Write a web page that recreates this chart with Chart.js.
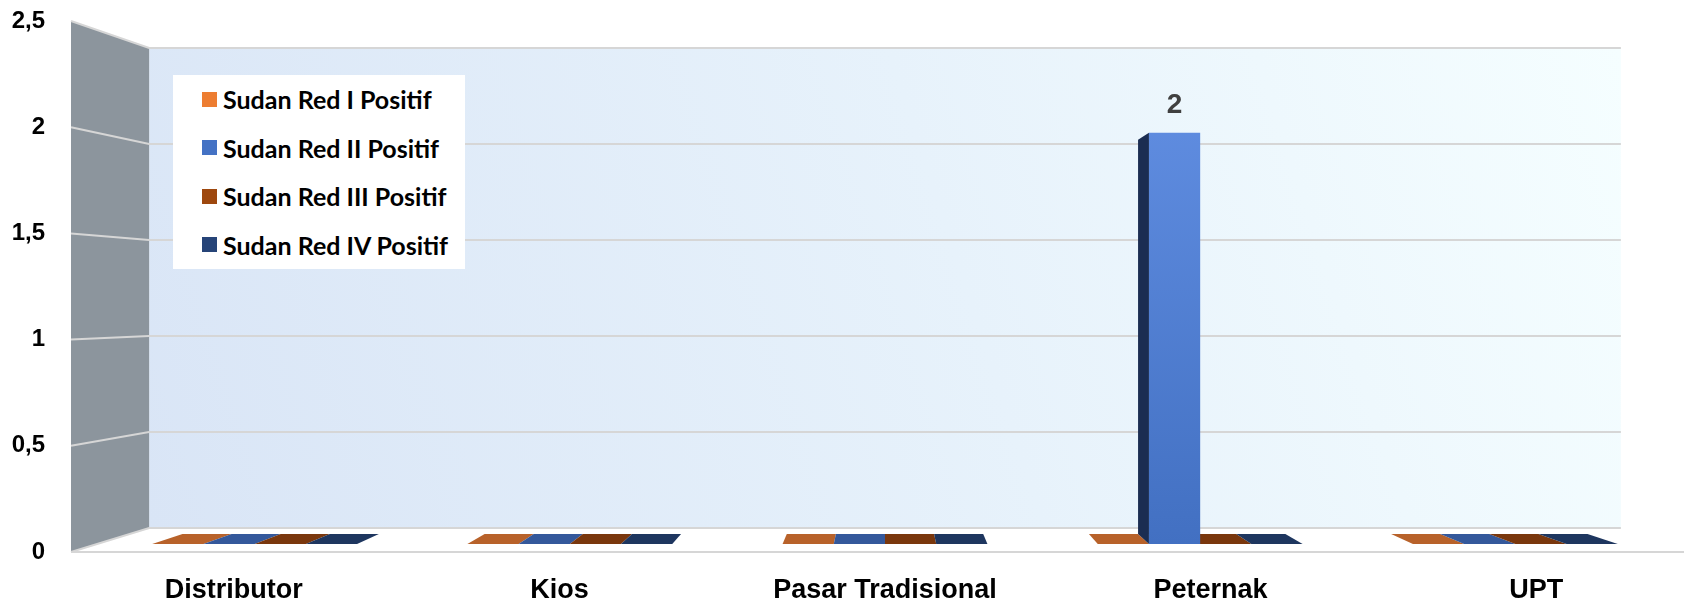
<!DOCTYPE html>
<html><head><meta charset="utf-8">
<script src="https://cdn.jsdelivr.net/npm/chart.js@4.4.1/dist/chart.umd.min.js"></script>
<style>
html,body{margin:0;padding:0;background:#fff;overflow:hidden;}
#wrap{position:relative;width:1700px;height:606px;}
#legend{position:absolute;left:173px;top:75px;width:292px;height:194px;background:#fff;font-family:Lato,'Noto Sans',sans-serif;font-weight:700;font-size:25px;color:#000;}
.item{position:absolute;left:29px;height:30px;display:flex;align-items:center;white-space:nowrap;}
.sw{width:15px;height:15px;margin-right:6px;flex:none;}
</style></head><body>
<div id="wrap"><canvas id="c"></canvas><div id="legend"></div></div>
<script>
const categories = ['Distributor', 'Kios', 'Pasar Tradisional', 'Peternak', 'UPT'];
const seriesNames = ['Sudan Red I Positif', 'Sudan Red II Positif', 'Sudan Red III Positif', 'Sudan Red IV Positif'];
const sudanRedI = [0, 0, 0, 0, 0];
const sudanRedII = [0, 0, 0, 2, 0];
const sudanRedIII = [0, 0, 0, 0, 0];
const sudanRedIV = [0, 0, 0, 0, 0];
const yTicks = [0, 0.5, 1, 1.5, 2, 2.5];

const seriesColors = ['#ED7D31', '#4472C4', '#9E480E', '#264478'];
const topColors = ['#b8622a', '#34589b', '#7a370d', '#1e365f'];
const sideColors = ['#8a4418', '#1b2d52', '#5a280a', '#14244a'];
const NARROW = "'Liberation Sans','Arimo',Arial,sans-serif";

const S_BACK = 0.904, S1 = 0.968, S2 = 0.928, VY_FRAC = 0.53;
function vp(ca){ return [(ca.left + ca.right) / 2, ca.top + VY_FRAC * (ca.bottom - ca.top)]; }
function P(ca, x, y, s){ const [vx, vy] = vp(ca); return [vx + (x - vx) * s, vy + (y - vy) * s]; }
function poly(ctx, pts, fill){ ctx.fillStyle = fill; ctx.beginPath(); ctx.moveTo(pts[0][0], pts[0][1]); for (let i = 1; i < pts.length; i++) ctx.lineTo(pts[i][0], pts[i][1]); ctx.closePath(); ctx.fill(); }

const room = {
  id: 'room',
  beforeDraw(chart){
    const {ctx, chartArea: ca} = chart; const y = chart.scales.y;
    const tl = P(ca, ca.left, ca.top, S_BACK), br = P(ca, ca.right, ca.bottom, S_BACK);
    ctx.save();
    const g = ctx.createLinearGradient(tl[0], br[1], br[0], tl[1]);
    g.addColorStop(0, '#d9e5f6'); g.addColorStop(0.55, '#e7f2fb'); g.addColorStop(1, '#f5feff');
    ctx.fillStyle = g; ctx.fillRect(tl[0], tl[1], br[0] - tl[0], br[1] - tl[1]);
    poly(ctx, [[ca.left, ca.top], tl, [tl[0], br[1]], [ca.left, ca.bottom]], '#8c959d');
    poly(ctx, [[ca.left, ca.bottom], [tl[0], br[1]], br, [ca.right, ca.bottom]], '#ffffff');
    ctx.strokeStyle = '#d6d6d6'; ctx.lineWidth = 2;
    y.ticks.forEach(t => {
      const py = y.getPixelForValue(t.value);
      const a = P(ca, ca.left, py, S_BACK), b = P(ca, ca.right, py, S_BACK);
      ctx.beginPath(); ctx.moveTo(ca.left, py); ctx.lineTo(a[0], a[1]); ctx.lineTo(b[0], b[1]); ctx.stroke();
    });
    ctx.beginPath(); ctx.moveTo(ca.left, ca.bottom); ctx.lineTo(ca.right, ca.bottom); ctx.stroke();
    ctx.restore();
  },
  beforeDatasetsDraw(chart){
    const {ctx, chartArea: ca} = chart; const [vx, vy] = vp(ca);
    ctx.save();
    const flats = [], sides = [];
    chart.data.datasets.forEach((ds, di) => {
      chart.getDatasetMeta(di).data.forEach(el => {
        const xl = el.x - el.width / 2, xr = el.x + el.width / 2;
        const yt = Math.min(el.y, el.base), yb = Math.max(el.y, el.base);
        if (yb - yt < 0.5) {
          flats.push([[P(ca, xl, yb, S1), P(ca, xr, yb, S1), P(ca, xr, yb, S2), P(ca, xl, yb, S2)], topColors[di]]);
        } else {
          const sx = xl > vx ? xl : xr;
          sides.push([[P(ca, sx, yt, S1), P(ca, sx, yb, S1), P(ca, sx, yb, S2), P(ca, sx, yt, S2)], sideColors[di]]);
          if (yt > vy) sides.push([[P(ca, xl, yt, S1), P(ca, xr, yt, S1), P(ca, xr, yt, S2), P(ca, xl, yt, S2)], topColors[di]]);
        }
      });
    });
    flats.forEach(f => poly(ctx, f[0], f[1]));
    sides.forEach(f => poly(ctx, f[0], f[1]));
    ctx.restore();
    ctx.save();
    ctx.translate(vx, vy); ctx.scale(S1, S1); ctx.translate(-vx, -vy);
  },
  afterDatasetsDraw(chart){
    const {ctx, chartArea: ca} = chart;
    ctx.restore();
    ctx.save();
    ctx.font = 'bold 28px ' + NARROW; ctx.fillStyle = '#404040'; ctx.textAlign = 'center'; ctx.textBaseline = 'middle';
    chart.data.datasets.forEach((ds, di) => {
      chart.getDatasetMeta(di).data.forEach((el, i) => {
        const v = ds.data[i];
        if (v > 0) { const p = P(ca, el.x, el.y, S1); ctx.fillText(String(v).replace('.', ','), p[0], p[1] - 28); }
      });
    });
    ctx.restore();
  }
};

function blueGrad(c){
  const ch = c.chart, ca = ch.chartArea;
  if (!ca) return seriesColors[1];
  const g = ch.ctx.createLinearGradient(0, ca.top, 0, ca.bottom);
  g.addColorStop(0, '#6592e6'); g.addColorStop(1, '#4270c2');
  return g;
}

const seriesData = [sudanRedI, sudanRedII, sudanRedIII, sudanRedIV];
new Chart(document.getElementById('c'), {
  type: 'bar',
  data: {
    labels: categories,
    datasets: seriesData.map((d, i) => ({
      label: seriesNames[i], data: d,
      backgroundColor: i === 1 ? blueGrad : seriesColors[i],
      borderWidth: 0, categoryPercentage: 0.65, barPercentage: 1
    }))
  },
  options: {
    responsive: true, maintainAspectRatio: false, animation: false,
    layout: { padding: { top: 21, right: 1, left: 0, bottom: 0 } },
    plugins: { legend: { display: false }, tooltip: { enabled: false } },
    scales: {
      x: {
        grid: { display: false, drawTicks: false }, border: { display: false },
        ticks: { color: '#000', font: { family: NARROW, size: 27, weight: 'bold' }, padding: 22, maxRotation: 0 },
        afterFit(s){ s.height = 54; s.paddingLeft = 0; s.paddingRight = 0; }
      },
      y: {
        min: 0, max: 2.5,
        grid: { display: false, drawTicks: false }, border: { display: false },
        afterBuildTicks(s){ s.ticks = yTicks.map(v => ({ value: v })); },
        ticks: { color: '#000', font: { family: NARROW, size: 24, weight: 'bold' }, padding: 26,
                 callback: v => String(v).replace('.', ',') },
        afterFit(s){ s.width = 71; s.paddingTop = 0; s.paddingBottom = 0; }
      }
    }
  },
  plugins: [room]
});

const lg = document.getElementById('legend');
seriesNames.forEach((n, i) => {
  const it = document.createElement('div'); it.className = 'item';
  it.style.top = (24 + 48.5 * i - 15) + 'px';
  const sw = document.createElement('span'); sw.className = 'sw'; sw.style.background = seriesColors[i];
  const tx = document.createElement('span'); tx.textContent = n;
  it.appendChild(sw); it.appendChild(tx); lg.appendChild(it);
});
</script>
</body></html>
